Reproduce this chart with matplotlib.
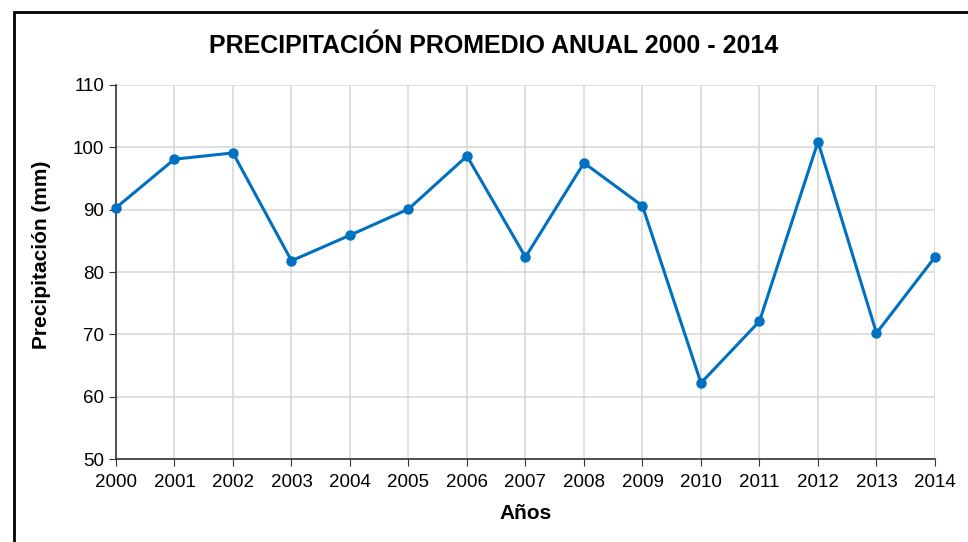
import matplotlib
matplotlib.use("Agg")
import matplotlib.pyplot as plt
from matplotlib.patches import Rectangle

# data
years = [2000, 2001, 2002, 2003, 2004, 2005, 2006, 2007, 2008, 2009, 2010, 2011, 2012, 2013, 2014]
precip = [90.3, 98.1, 99.1, 81.8, 85.9, 90.1, 98.6, 82.4, 97.5, 90.6, 62.2, 72.1, 100.9, 70.2, 82.4]
y_ticks = [50, 60, 70, 80, 90, 100, 110]

plt.rcParams["font.family"] = ["Liberation Sans", "DejaVu Sans"]

fig = plt.figure(figsize=(9.68, 5.42), dpi=100)
ax = fig.add_axes([0.1198, 0.1531, 0.8461, 0.6901])

ax.plot(years, precip, color="#0070c0", lw=2.2, marker="o", ms=6.5, clip_on=False, zorder=3)

ax.set_xlim(2000, 2014)
ax.set_ylim(50, 110)
ax.set_xticks(years)
ax.set_yticks(y_ticks)
ax.tick_params(labelsize=13.5, length=5, color="#333333", direction="out")
ax.tick_params(axis="x", pad=6)
ax.grid(True, color="#d9d9d9", lw=1.2)
ax.set_axisbelow(True)

for s in ["top", "right"]:
    ax.spines[s].set_visible(False)
for s in ["left", "bottom"]:
    ax.spines[s].set_color("#333333")
    ax.spines[s].set_linewidth(1.2)

ax.set_xlabel("Años", fontsize=15, fontweight="bold", labelpad=9)
ax.set_ylabel("Precipitación (mm)", fontsize=15, fontweight="bold")
ax.yaxis.set_label_coords(-0.079, 0.545)

fig.text(0.510, 0.915, "PRECIPITACIÓN PROMEDIO ANUAL 2000 - 2014", ha="center", va="center",
         fontsize=18, fontweight="bold")

# chart frame
fig.patches.append(Rectangle((14 / 968, -0.1), 1.1, 1 - 12 / 542 + 0.1, transform=fig.transFigure,
                             fill=False, ec="black", lw=2))

fig.savefig("out.png", dpi=100)
